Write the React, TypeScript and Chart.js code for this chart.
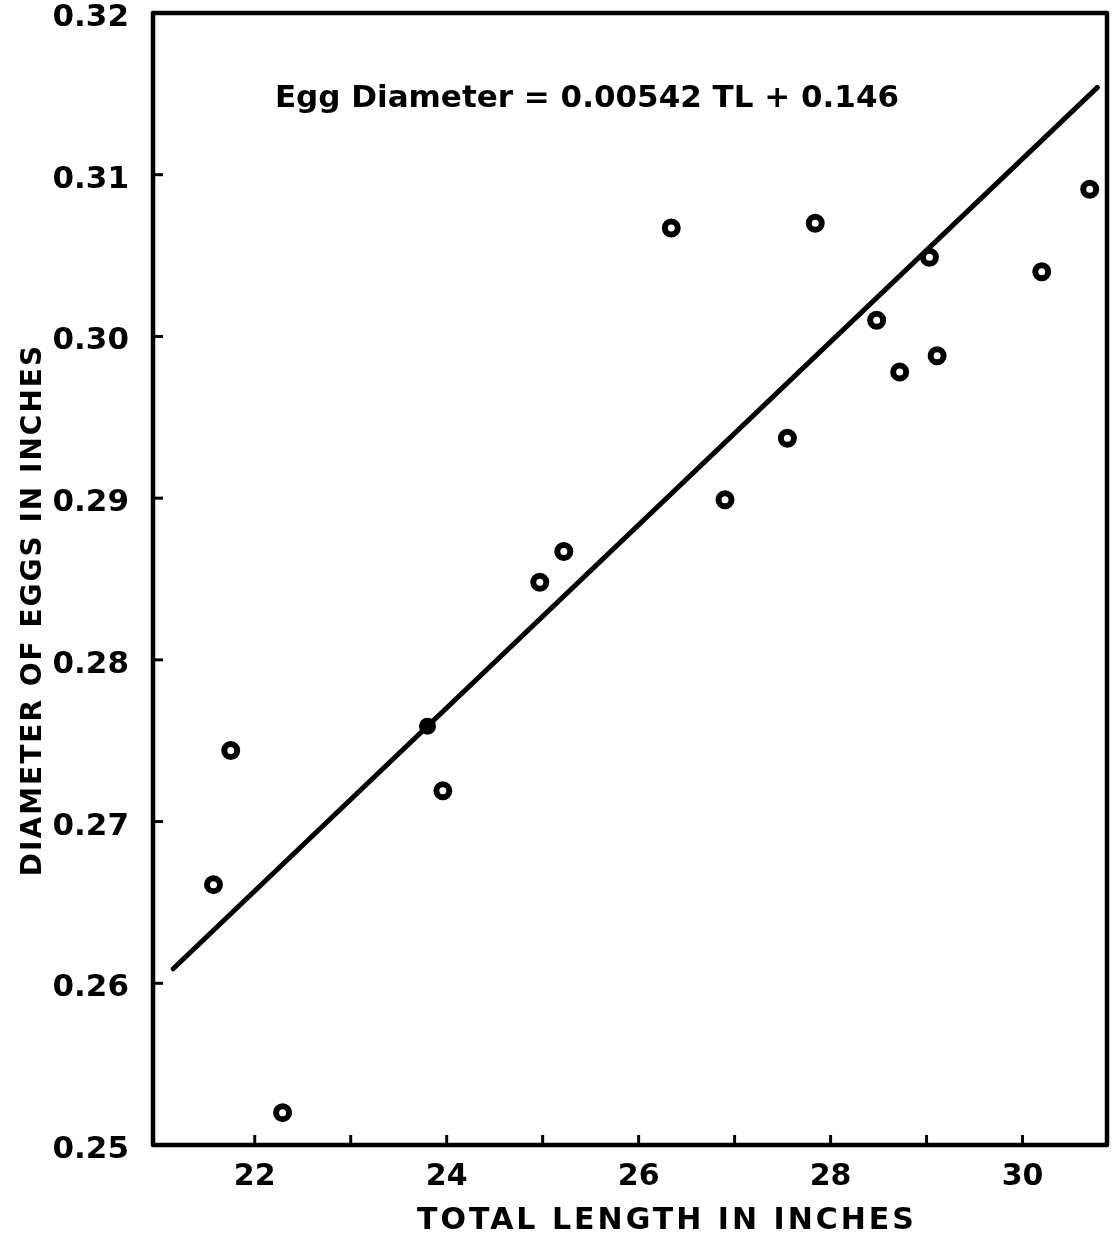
import React, { useEffect, useRef } from "react";
import { Chart, registerables } from "chart.js";

Chart.register(...registerables);

// Data
const totalLength = [21.57, 21.75, 22.29, 23.96, 24.97, 25.22, 26.34, 26.9, 27.55, 27.84, 28.48, 28.72, 29.03, 29.11, 30.2, 30.7];
const eggDiameter = [0.2661, 0.2744, 0.2520, 0.2719, 0.2848, 0.2867, 0.3067, 0.2899, 0.2937, 0.3070, 0.3010, 0.2978, 0.3049, 0.2988, 0.3040, 0.3091];
const filledLength = [23.8];
const filledDiameter = [0.2759];
const fitLength = [21.15, 30.78];
const fitDiameter = [0.2609, 0.3154];
const xTickValues = [22, 23, 24, 25, 26, 27, 28, 29, 30];
const xLabelValues = [22, 24, 26, 28, 30];
const yTickValues = [0.25, 0.26, 0.27, 0.28, 0.29, 0.3, 0.31, 0.32];
const equationText = "Egg Diameter = 0.00542 TL + 0.146";
const xTitle = "TOTAL LENGTH IN INCHES";
const yTitle = "DIAMETER OF EGGS IN INCHES";

const FONT = "'DejaVu Sans', sans-serif";

const framePlugin = {
  id: "framePlugin",
  afterDatasetsDraw(chart: any) {
    const { ctx, chartArea } = chart;
    const xs = chart.scales.x;
    const ys = chart.scales.y;
    ctx.save();
    ctx.strokeStyle = "#000";
    ctx.lineWidth = 4.5;
    ctx.lineJoin = "round";
    ctx.strokeRect(chartArea.left, chartArea.top, chartArea.right - chartArea.left, chartArea.bottom - chartArea.top);
    ctx.lineWidth = 3;
    xTickValues.forEach((v) => {
      const px = xs.getPixelForValue(v);
      ctx.beginPath();
      ctx.moveTo(px, chartArea.bottom);
      ctx.lineTo(px, chartArea.bottom - 10);
      ctx.stroke();
    });
    yTickValues.forEach((v) => {
      const py = ys.getPixelForValue(v);
      ctx.beginPath();
      ctx.moveTo(chartArea.left, py);
      ctx.lineTo(chartArea.left + 10, py);
      ctx.stroke();
    });
    ctx.restore();
  },
  afterDraw(chart: any) {
    const { ctx } = chart;
    ctx.save();
    ctx.fillStyle = "#000";
    ctx.textAlign = "center";
    ctx.textBaseline = "middle";
    // equation
    ctx.font = `bold 31px ${FONT}`;
    ctx.fillText(equationText, 587, 99);
    // x title
    ctx.font = `bold 30px ${FONT}`;
    (ctx as any).letterSpacing = "3px";
    ctx.fillText(xTitle, 667, 1221);
    // y title
    ctx.font = `bold 28px ${FONT}`;
    (ctx as any).letterSpacing = "2px";
    ctx.translate(34, 610);
    ctx.rotate(-Math.PI / 2);
    ctx.fillText(yTitle, 0, 0);
    ctx.restore();
  },
};

export default function App() {
  const ref = useRef<HTMLCanvasElement | null>(null);
  useEffect(() => {
    if (!ref.current) return;
    const chart = new Chart(ref.current, {
      type: "scatter",
      data: {
        datasets: [
          {
            label: "Observed",
            data: totalLength.map((x, i) => ({ x, y: eggDiameter[i] })),
            pointRadius: 6.5,
            pointBorderWidth: 6,
            pointBackgroundColor: "#fff",
            pointBorderColor: "#000",
            order: 0,
          },
          {
            label: "Mean",
            data: filledLength.map((x, i) => ({ x, y: filledDiameter[i] })),
            pointRadius: 8.5,
            pointBorderWidth: 0,
            pointBackgroundColor: "#000",
            pointBorderColor: "#000",
            order: 1,
          },
          {
            label: "Fit",
            data: fitLength.map((x, i) => ({ x, y: fitDiameter[i] })),
            showLine: true,
            borderColor: "#000",
            borderWidth: 5,
            borderCapStyle: "round",
            pointRadius: 0,
            order: 2,
          },
        ],
      },
      options: {
        responsive: false,
        animation: false,
        devicePixelRatio: 1,
        layout: { autoPadding: false, padding: { top: 13, right: 5, left: 0, bottom: 0 } },
        plugins: { legend: { display: false }, tooltip: { enabled: false }, title: { display: false } },
        scales: {
          x: {
            type: "linear",
            min: 20.94,
            max: 30.88,
            grid: { display: false },
            border: { display: false },
            afterBuildTicks: (s: any) => {
              s.ticks = xTickValues.map((v) => ({ value: v }));
            },
            afterFit: (s: any) => {
              s.height = 94;
              s.paddingLeft = 0;
              s.paddingRight = 0;
            },
            ticks: {
              autoSkip: false,
              maxRotation: 0,
              padding: 6,
              color: "#000",
              font: { family: FONT, weight: "bold", size: 30 },
              callback: (v: any) => (xLabelValues.includes(Number(v)) ? String(v) : ""),
            },
          },
          y: {
            type: "linear",
            min: 0.25,
            max: 0.32,
            grid: { display: false },
            border: { display: false },
            afterBuildTicks: (s: any) => {
              s.ticks = yTickValues.map((v) => ({ value: v }));
            },
            afterFit: (s: any) => {
              s.width = 153;
              s.paddingTop = 0;
              s.paddingBottom = 0;
            },
            ticks: {
              autoSkip: false,
              padding: 16,
              labelOffset: 5,
              color: "#000",
              font: { family: FONT, weight: "bold", size: 31 },
              callback: (v: any) => Number(v).toFixed(2),
            },
          },
        },
      },
      plugins: [framePlugin],
    });
    return () => chart.destroy();
  }, []);
  return (
    <div style={{ position: "absolute", left: 0, top: 0, width: 1112, height: 1239, background: "#fff" }}>
      <canvas ref={ref} width={1112} height={1239} />
    </div>
  );
}
